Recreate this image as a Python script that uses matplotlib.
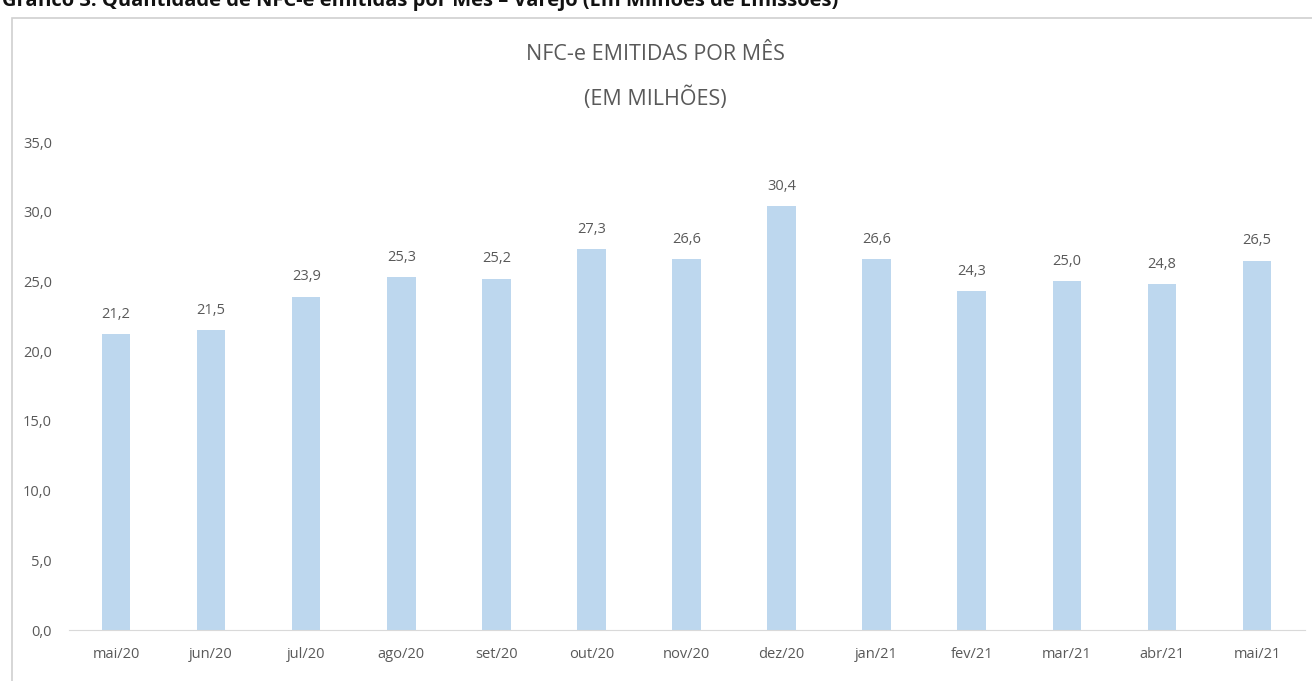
import matplotlib
matplotlib.use("Agg")
import matplotlib.pyplot as plt
from matplotlib.patches import Rectangle

months = ["mai/20", "jun/20", "jul/20", "ago/20", "set/20", "out/20", "nov/20",
          "dez/20", "jan/21", "fev/21", "mar/21", "abr/21", "mai/21"]
values = [21.2, 21.5, 23.9, 25.3, 25.2, 27.3, 26.6, 30.4, 26.6, 24.3, 25.0, 24.8, 26.5]
yticks = [0, 5, 10, 15, 20, 25, 30, 35]

plt.rcParams['font.family'] = ['Open Sans', 'DejaVu Sans']
gray = "#595959"

fig = plt.figure(figsize=(13.12, 6.81), dpi=100)
fig.patch.set_facecolor("white")

# chart frame
fig.patches.append(Rectangle((12/1312, -0.05), 1.05, 1 - 18/681 + 0.05,
                             transform=fig.transFigure, fill=False,
                             edgecolor="#d0d0d0", linewidth=1.2))

# cut-off caption above frame (as in the reference)
fig.text(2/1312, 1 - 1/681, "Gráfico 3: Quantidade de NFC-e emitidas por Mês – Varejo (Em Milhões de Emissões)",
         fontsize=14.5, fontweight="bold", color="#111111", ha="left", va="center")

ax = fig.add_axes([68.5/1312, 51/681, 1236/1312, 488/681])
x = range(len(months))
ax.bar(x, values, width=0.30, color="#BDD7EE")
for xi, v in zip(x, values):
    ax.text(xi, v + 0.9, f"{v:.1f}".replace(".", ","), ha="center", va="bottom",
            fontsize=10.5, color=gray)

ax.set_xlim(-0.5, len(months) - 0.5)
ax.set_ylim(0, 35)
ax.set_yticks(yticks)
ax.set_yticklabels([f"{t:.1f}".replace(".", ",") for t in yticks], fontsize=10.5, color=gray)
ax.set_xticks(list(x))
ax.set_xticklabels(months, fontsize=10.5, color=gray)
ax.tick_params(axis="both", length=0)
ax.tick_params(axis="y", pad=12)
ax.tick_params(axis="x", pad=12)
for s in ["top", "right", "left"]:
    ax.spines[s].set_visible(False)
ax.spines["bottom"].set_color("#d9d9d9")

fig.text(655/1312, 1 - 55/681, "NFC-e EMITIDAS POR MÊS", ha="center", va="center",
         fontsize=15.5, color=gray)
fig.text(655/1312, 1 - 98/681, "(EM MILHÕES)", ha="center", va="center",
         fontsize=15.5, color=gray)

fig.savefig("out.png", dpi=100)
